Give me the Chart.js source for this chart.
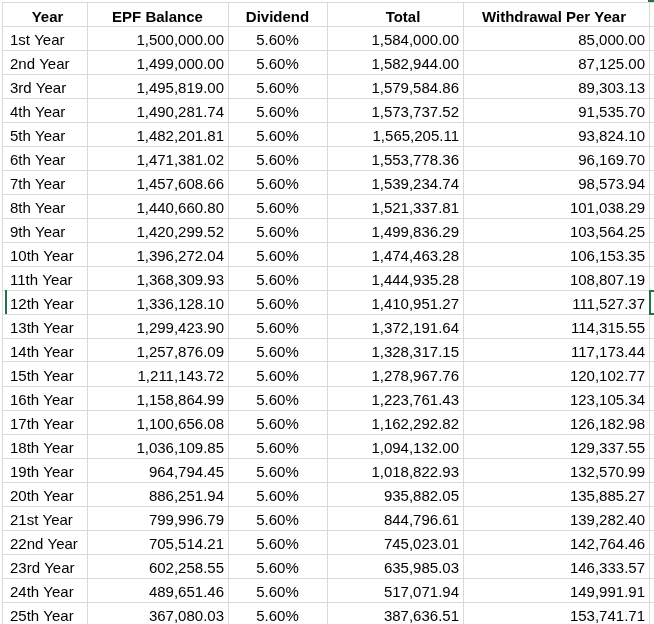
<!DOCTYPE html>
<html>
<head>
<meta charset="utf-8">
<script src="https://cdn.jsdelivr.net/npm/chart.js@4"></script>
<style>
  html, body { margin: 0; padding: 0; background: #fff; overflow: hidden; }
  #wrap { width: 654px; height: 626px; position: relative; }
</style>
</head>
<body>
<div id="wrap"><canvas id="sheet"></canvas></div>
<script>
const headers = ["Year", "EPF Balance", "Dividend", "Total", "Withdrawal Per Year"];

const years = ["1st Year", "2nd Year", "3rd Year", "4th Year", "5th Year", "6th Year", "7th Year",
    "8th Year", "9th Year", "10th Year", "11th Year", "12th Year", "13th Year", "14th Year",
    "15th Year", "16th Year", "17th Year", "18th Year", "19th Year", "20th Year", "21st Year",
    "22nd Year", "23rd Year", "24th Year", "25th Year"];

const epfBalance = [1500000.00, 1499000.00, 1495819.00, 1490281.74, 1482201.81, 1471381.02,
    1457608.66, 1440660.80, 1420299.52, 1396272.04, 1368309.93, 1336128.10, 1299423.90,
    1257876.09, 1211143.72, 1158864.99, 1100656.08, 1036109.85, 964794.45, 886251.94,
    799996.79, 705514.21, 602258.55, 489651.46, 367080.03];

const dividend = [5.60, 5.60, 5.60, 5.60, 5.60, 5.60, 5.60, 5.60, 5.60, 5.60, 5.60, 5.60, 5.60,
    5.60, 5.60, 5.60, 5.60, 5.60, 5.60, 5.60, 5.60, 5.60, 5.60, 5.60, 5.60];

const total = [1584000.00, 1582944.00, 1579584.86, 1573737.52, 1565205.11, 1553778.36,
    1539234.74, 1521337.81, 1499836.29, 1474463.28, 1444935.28, 1410951.27, 1372191.64,
    1328317.15, 1278967.76, 1223761.43, 1162292.82, 1094132.00, 1018822.93, 935882.05,
    844796.61, 745023.01, 635985.03, 517071.94, 387636.51];

const withdrawal = [85000.00, 87125.00, 89303.13, 91535.70, 93824.10, 96169.70, 98573.94,
    101038.29, 103564.25, 106153.35, 108807.19, 111527.37, 114315.55, 117173.44, 120102.77,
    123105.34, 126182.98, 129337.55, 132570.99, 135885.27, 139282.40, 142764.46, 146333.57,
    149991.91, 153741.71];

// sheet layout (column edges in x-scale units, row index on y)
const colEdges = [0, 85, 226, 325, 461, 647];
const colAlign = ["left", "right", "center", "right", "right"];
const headerShift = [3, 0, 0, 8, -2];
const selectedRow = 12;

const money = v => v.toLocaleString("en-US", {minimumFractionDigits: 2, maximumFractionDigits: 2});
const pct = v => v.toFixed(2) + "%";

const columns = [
    years,
    epfBalance.map(money),
    dividend.map(pct),
    total.map(money),
    withdrawal.map(money)
];

const FONT = '"Liberation Sans", Arial, sans-serif';
const GREEN = "#217346";

const tableText = {
    id: "tableText",
    afterDraw(chart) {
        const {ctx, scales: {x, y}} = chart;
        ctx.save();
        ctx.fillStyle = "#000";
        ctx.textBaseline = "alphabetic";

        headers.forEach((h, c) => {
            const cx = (x.getPixelForValue(colEdges[c]) + x.getPixelForValue(colEdges[c + 1])) / 2;
            ctx.font = "bold 15px " + FONT;
            ctx.textAlign = "center";
            ctx.fillText(h, cx + headerShift[c], y.getPixelForValue(0) + 8);
        });

        ctx.font = "15px " + FONT;
        columns.forEach((col, c) => {
            const left = x.getPixelForValue(colEdges[c]);
            const right = x.getPixelForValue(colEdges[c + 1]);
            col.forEach((txt, r) => {
                const py = y.getPixelForValue(r + 1) + 7;
                ctx.textAlign = colAlign[c];
                let px;
                if (colAlign[c] === "left") px = left + 8;
                else if (colAlign[c] === "right") px = right - 4;
                else px = (left + right) / 2;
                ctx.fillText(txt, px, py);
            });
        });

        // excel selection marks
        const top = y.getPixelForValue(selectedRow - 0.5);
        const bottom = y.getPixelForValue(selectedRow + 0.5);
        ctx.fillStyle = GREEN;
        ctx.fillRect(x.getPixelForValue(3), top, 2, bottom - top);
        ctx.strokeStyle = GREEN;
        ctx.lineWidth = 2;
        const fx = x.getPixelForValue(colEdges[5]) + 1;
        ctx.strokeRect(fx, top + 1, 20, bottom - top - 1);
        ctx.fillRect(fx - 2, 0, 20, 2);
        ctx.restore();
    }
};

const rowTicks = [];
for (let i = 0; i <= years.length + 1; i++) rowTicks.push({value: i - 0.5});

new Chart(document.getElementById("sheet"), {
    type: "scatter",
    data: {datasets: []},
    plugins: [tableText],
    options: {
        responsive: true,
        maintainAspectRatio: false,
        animation: false,
        events: [],
        layout: {padding: {left: 2, top: 2, right: 0, bottom: 0}},
        plugins: {legend: {display: false}, tooltip: {enabled: false}},
        scales: {
            x: {
                type: "linear",
                min: 0,
                max: 652,
                afterBuildTicks: s => { s.ticks = colEdges.map(v => ({value: v})); },
                ticks: {display: false},
                grid: {color: "#d9d9d9", lineWidth: 1, drawTicks: false},
                border: {display: false}
            },
            y: {
                type: "linear",
                reverse: true,
                min: -0.5,
                max: years.length + 0.5,
                afterBuildTicks: s => { s.ticks = rowTicks.slice(); },
                ticks: {display: false},
                grid: {color: "#d9d9d9", lineWidth: 1, drawTicks: false},
                border: {display: false}
            }
        }
    }
});
</script>
</body>
</html>
